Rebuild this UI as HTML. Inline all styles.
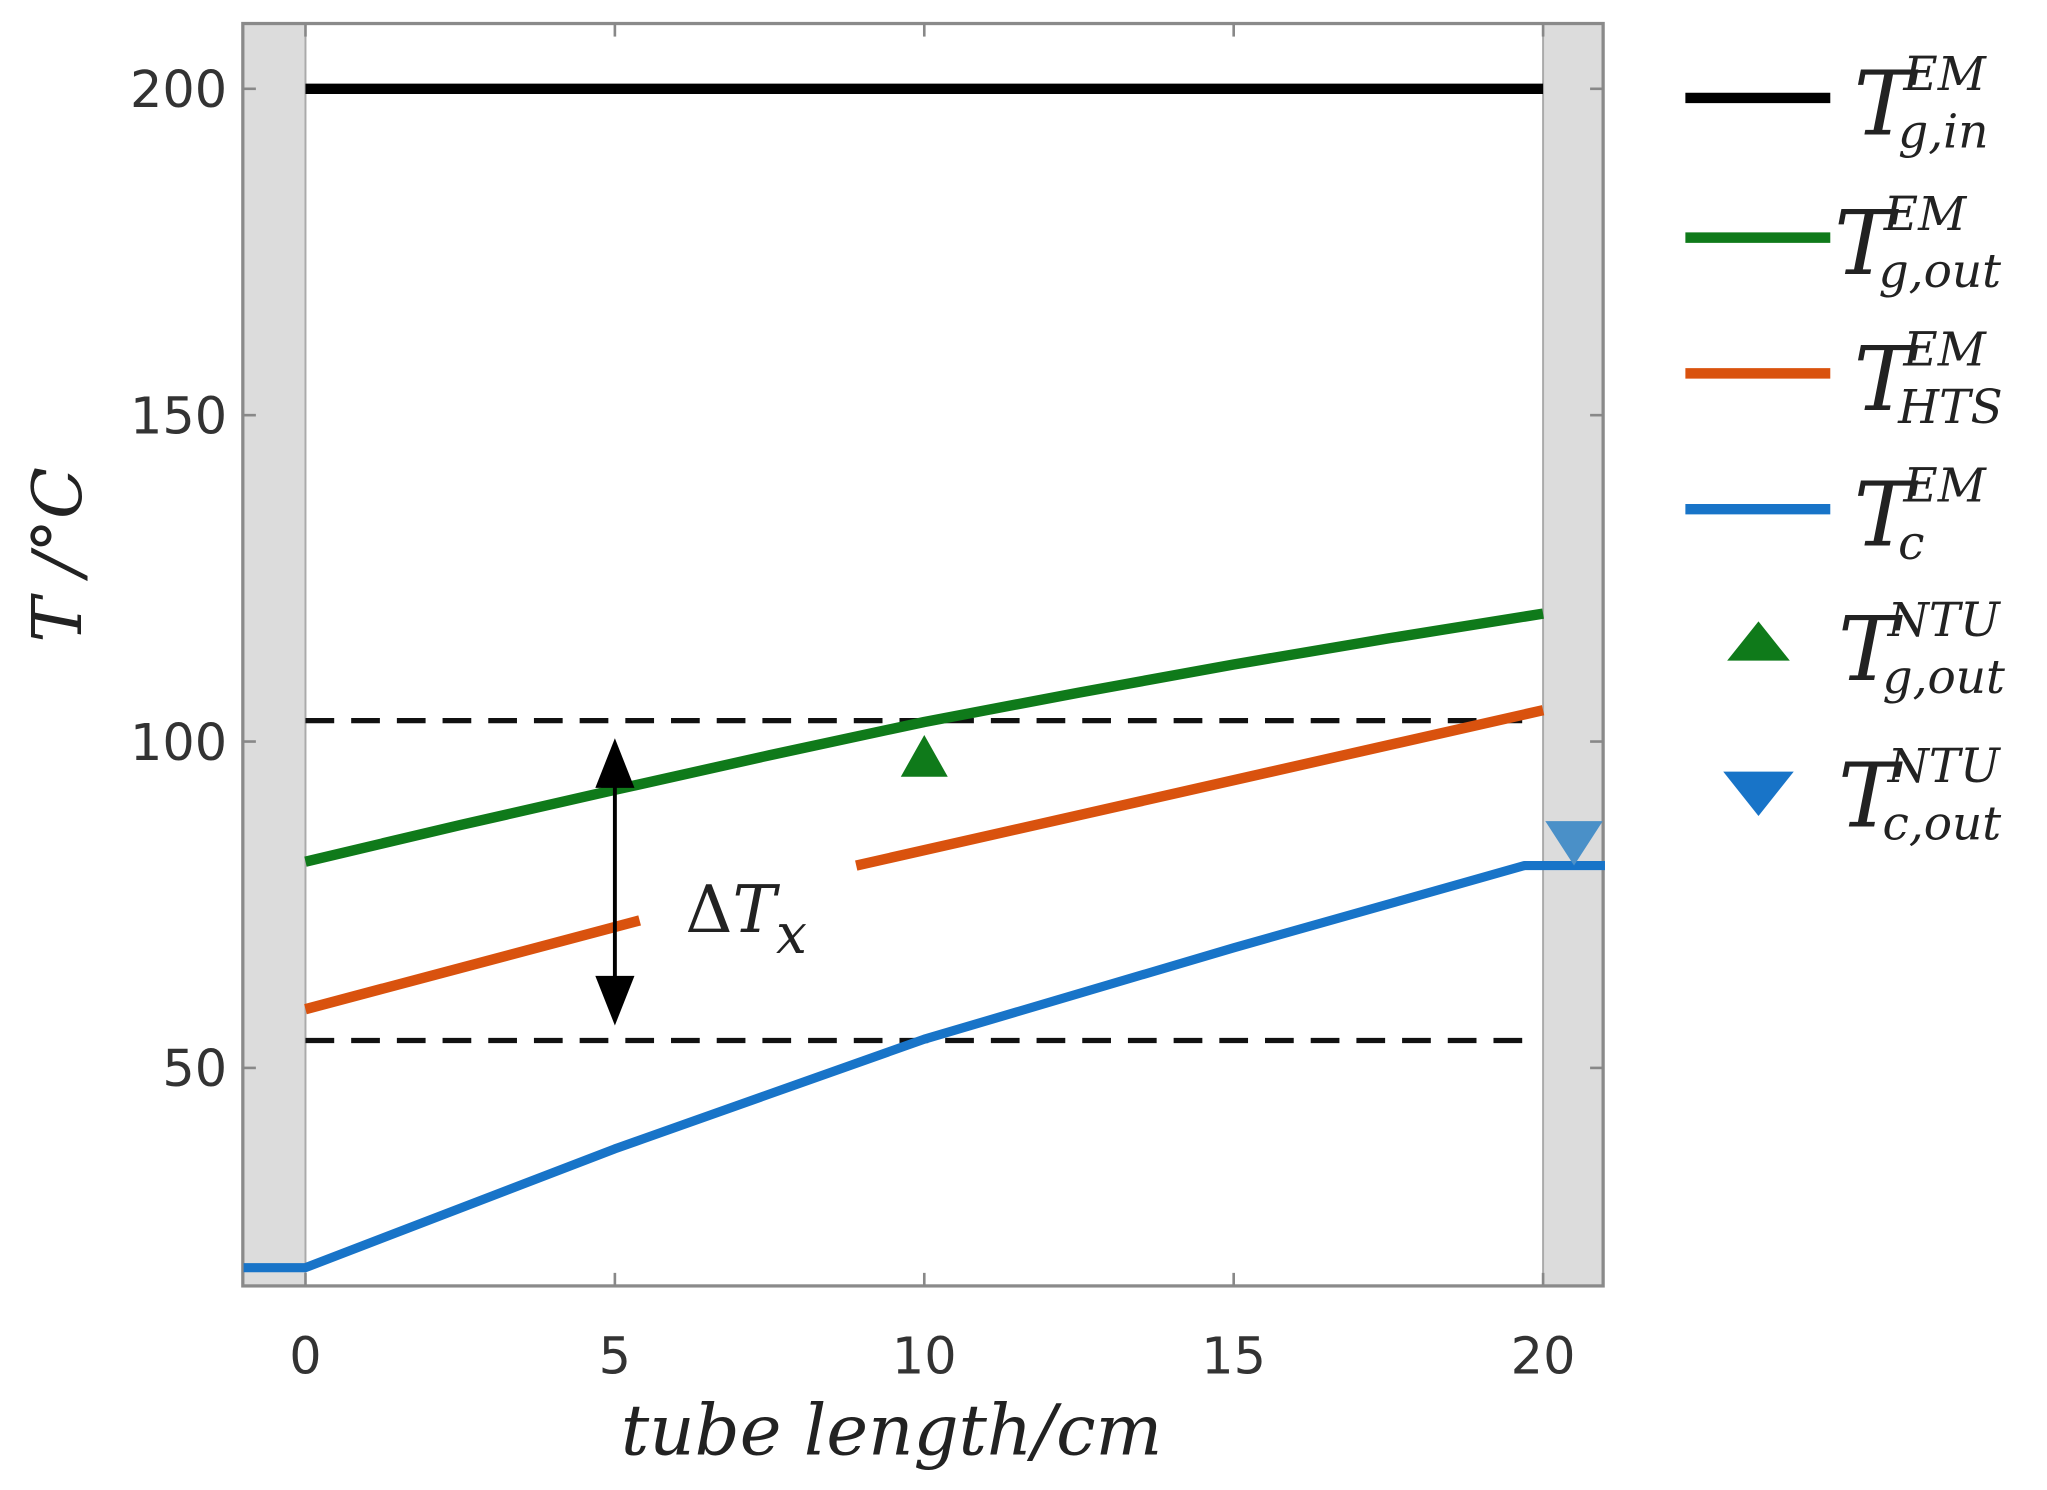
<!DOCTYPE html>
<html><head><meta charset="utf-8"><style>
html,body{margin:0;padding:0;background:#fff}
svg{display:block}
.tick{font-family:"DejaVu Sans","Liberation Sans",sans-serif;font-size:39px;fill:#333}
.math{font-family:"DejaVu Serif","Liberation Serif",serif;font-style:italic;fill:#222}
</style></head><body>
<svg id="chart" width="2047" height="1490" viewBox="0 0 1568 1141.3" xmlns="http://www.w3.org/2000/svg"></svg>
<script>
const xTicks=[0,5,10,15,20];
const yTicks=[50,100,150,200];
const gInX=[0,20], gInY=[200,200];
const gOutX=[0,2.5,5,7.5,10,12.5,15,17.5,20];
const gOutY=[81.6,87.2,92.6,97.9,103.0,107.5,111.8,115.8,119.6];
const htsAX=[0,5.4], htsAY=[59,72.6];
const htsBX=[8.9,20], htsBY=[81,104.8];
const cX=[-1,0,5,10,15,19.7,21], cY=[19.4,19.4,37.6,54.4,68.4,81,81];
const dashY=[103.2,54.2];
const ntuG=[10,97.6];
const ntuC=[20.5,84.6];
const arrowX=5, arrowY=[100.5,56.5];

const svg=document.getElementById('chart');
const NS='http://www.w3.org/2000/svg';
const X=v=>234+(v)*(1182-234)/20;
const Y=v=>68+(200-v)*5;
function el(tag,attrs,parent){const e=document.createElementNS(NS,tag);for(const k in attrs)e.setAttribute(k,attrs[k]);(parent||svg).appendChild(e);return e;}

let e=el('rect',{x:186,y:18,width:48,height:967,fill:'#dcdcdc'});


e=el('rect',{x:1182,y:18,width:46,height:967,fill:'#dcdcdc'});


e=el('rect',{x:186,y:18,width:1042,height:967,fill:'none',stroke:'#8a8a8a','stroke-width':2.5});


el('line',{x1:234,y1:18,x2:234,y2:985,stroke:'#aaa','stroke-width':1.5});
el('line',{x1:1182,y1:18,x2:1182,y2:985,stroke:'#aaa','stroke-width':1.5});

xTicks.forEach(t=>{
  el('line',{x1:X(t),y1:985,x2:X(t),y2:975,stroke:'#888','stroke-width':2});
  el('line',{x1:X(t),y1:18,x2:X(t),y2:28,stroke:'#888','stroke-width':2});
  const tx=el('text',{x:X(t),y:1052,'text-anchor':'middle',class:'tick'});tx.textContent=t;
  
  
});
yTicks.forEach(t=>{
  el('line',{x1:186,y1:Y(t),x2:196,y2:Y(t),stroke:'#888','stroke-width':2});
  el('line',{x1:1228,y1:Y(t),x2:1218,y2:Y(t),stroke:'#888','stroke-width':2});
  const tx=el('text',{x:174,y:Y(t)+14,'text-anchor':'end',class:'tick'});tx.textContent=t;
  
  
});

function line(xs,ys,color,name,w){
  const p=el('polyline',{points:xs.map((x,i)=>X(x)+','+Y(ys[i])).join(' '),fill:'none',stroke:color,'stroke-width':w||8,'stroke-linejoin':'round'});
  
  
}
dashY.forEach((d,i)=>{
  const l=el('line',{x1:X(0),y1:Y(d),x2:X(19.9),y2:Y(d),stroke:'#111','stroke-width':4,'stroke-dasharray':'22,13'});
  
  
});
line(gInX,gInY,'#000','t-g-in-line');
line(gOutX,gOutY,'#0f7a1a','t-g-out-line');
line(htsAX,htsAY,'#d9520e','t-hts-line-a');
line(htsBX,htsBY,'#d9520e','t-hts-line-b');
line(cX,cY,'#1874c8','t-c-line',7);

const ax=X(arrowX),a1=Y(arrowY[0]),a2=Y(arrowY[1]);
e=el('g',{});


el('line',{x1:ax,y1:a1+20,x2:ax,y2:a2-20,stroke:'#000','stroke-width':3},e);
el('polygon',{points:`${ax},${a1} ${ax-15},${a1+38} ${ax+15},${a1+38}`,fill:'#000'},e);
el('polygon',{points:`${ax},${a2} ${ax-15},${a2-38} ${ax+15},${a2-38}`,fill:'#000'},e);
e=el('text',{x:525,y:714,class:'math','font-size':50});
e.innerHTML='<tspan font-style="normal">Δ</tspan>T<tspan dy="16" font-size="42">x</tspan>';



const gx=X(ntuG[0]),gy=Y(ntuG[1]);
e=el('polygon',{points:`${gx},${gy-17} ${gx-18},${gy+15} ${gx+18},${gy+15}`,fill:'#0f7a1a'});


const cx=X(ntuC[0]),cy=Y(ntuC[1]);
e=el('polygon',{points:`${cx-22},${cy-16} ${cx+22},${cy-16} ${cx},${cy+18}`,fill:'#4a90c8'});



e=el('text',{x:0,y:0,class:'math','font-size':52,'text-anchor':'middle',transform:'translate(62,425) rotate(-90)'});
e.textContent='T /°C';


e=el('text',{x:683,y:1114,class:'math','font-size':54,'text-anchor':'middle'});
e.textContent='tube length/cm';



// legend
const legColors=['#000','#0f7a1a','#d9520e','#1874c8'];
const legSups=['EM','EM','EM','EM'];
const legSubs=['g,in','g,out','HTS','c'];
const legLineY=[75,182,286,390];
const legTX=[1420,1405,1420,1420];
legColors.forEach((c,i)=>{
  const g=el('g',{});
  
  
  const L=legLineY[i];
  el('line',{x1:1291,y1:L,x2:1402,y2:L,stroke:c,'stroke-width':8},g);
  el('text',{x:legTX[i],y:L+28,class:'math','font-size':68},g).textContent='T';
  el('text',{x:legTX[i]+38,y:L-6,class:'math','font-size':36},g).textContent=legSups[i];
  el('text',{x:legTX[i]+34,y:L+38,class:'math','font-size':36},g).textContent=legSubs[i];
});
const ntuSubs=['g,out','c,out'];
const ntuY=[493,605];
[0,1].forEach(i=>{
  const g=el('g',{});
  
  
  const my=ntuY[i], mx=1347;
  if(i==0) el('polygon',{points:`${mx},${my-17} ${mx-24},${my+13} ${mx+24},${my+13}`,fill:'#0f7a1a'},g);
  else el('polygon',{points:`${mx-27},${my-14} ${mx+27},${my-14} ${mx},${my+20}`,fill:'#1874c8'},g);
  el('text',{x:1408,y:my+28,class:'math','font-size':68},g).textContent='T';
  el('text',{x:1446,y:my-6,class:'math','font-size':36},g).textContent='NTU';
  el('text',{x:1442,y:my+38,class:'math','font-size':36},g).textContent=ntuSubs[i];
});
</script>
</body></html>
